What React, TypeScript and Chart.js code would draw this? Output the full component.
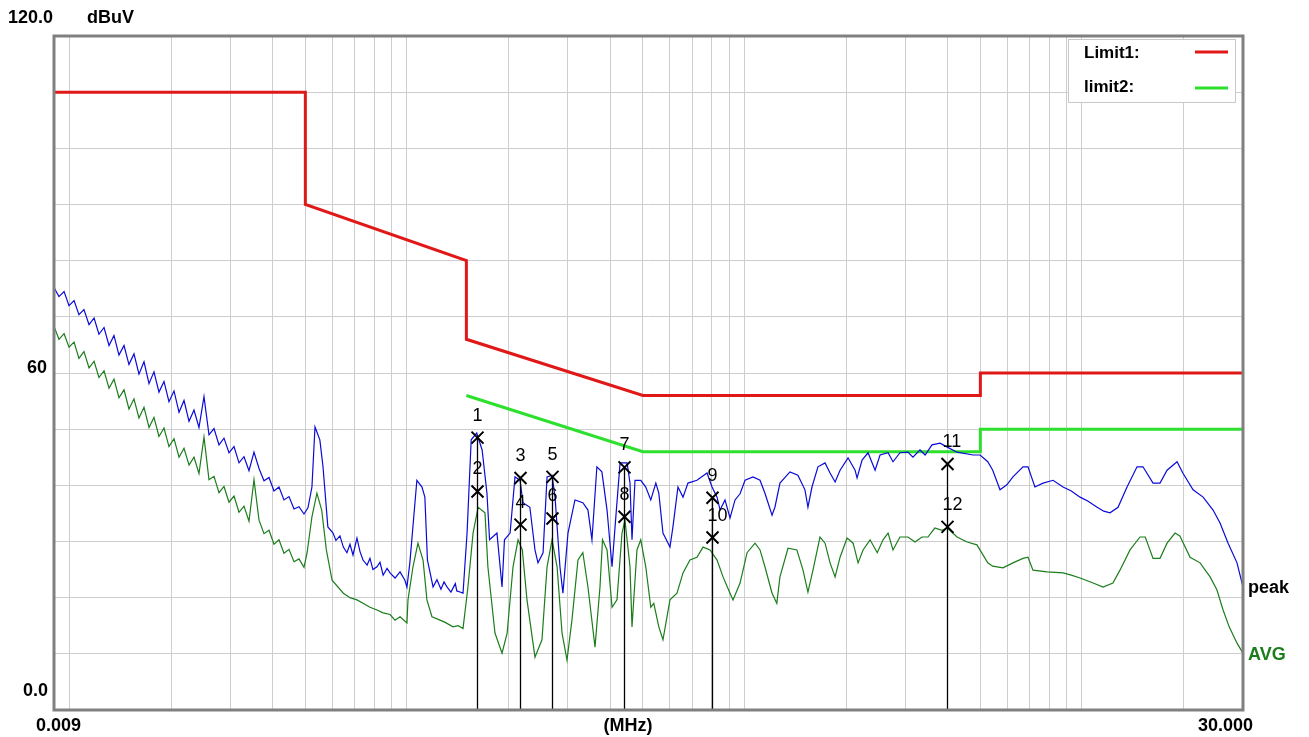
import React, { useEffect, useRef } from "react";
import { Chart, registerables } from "chart.js";

Chart.register(...registerables);

// ---------- data (frequency in MHz, level in dBuV) ----------
const peakFreq = [
  0.009, 0.00931, 0.00964, 0.00997, 0.01032, 0.01067, 0.01104, 0.01143, 0.01183, 0.01223,
  0.01266, 0.0131, 0.01355, 0.01402, 0.01451, 0.01501, 0.01553, 0.01607, 0.01663, 0.01721,
  0.0178, 0.01842, 0.01906, 0.01972, 0.02041, 0.02112, 0.02185, 0.02261, 0.02339, 0.0242,
  0.02504, 0.02591, 0.02681, 0.02774, 0.0287, 0.0297, 0.03073, 0.0318, 0.0329, 0.03404,
  0.03522, 0.03645, 0.03771, 0.03902, 0.04037, 0.04177, 0.04322, 0.04472, 0.04628, 0.04788,
  0.04954, 0.0509, 0.0523, 0.0534, 0.0552, 0.0564, 0.0583, 0.0604, 0.0616, 0.0633,
  0.0648, 0.0664, 0.0678, 0.0692, 0.0711, 0.0726, 0.0741, 0.0762, 0.0777, 0.0793,
  0.0815, 0.0832, 0.085, 0.0873, 0.0891, 0.0922, 0.0954, 0.0986, 0.1, 0.102,
  0.107, 0.1108, 0.113, 0.115, 0.1195, 0.1227, 0.1261, 0.1288, 0.1314, 0.135,
  0.1391, 0.1405, 0.1436, 0.1466, 0.1507, 0.155, 0.161, 0.167, 0.1726, 0.1757,
  0.1848, 0.1913, 0.1945, 0.2021, 0.209, 0.2163, 0.2207, 0.2313, 0.2395, 0.2445,
  0.2531, 0.2601, 0.2691, 0.2746, 0.284, 0.2898, 0.3, 0.3146, 0.332, 0.3438,
  0.3533, 0.3654, 0.3781, 0.3916, 0.4052, 0.4136, 0.428, 0.449, 0.458, 0.4643,
  0.4739, 0.4929, 0.51, 0.5278, 0.5463, 0.5575, 0.5735, 0.6016, 0.6139, 0.6353,
  0.6575, 0.6802, 0.7232, 0.7747, 0.8016, 0.8295, 0.8467, 0.8756, 0.9062, 0.9378,
  0.9704, 1.004, 1.06, 1.112, 1.15, 1.207, 1.231, 1.274, 1.364, 1.44,
  1.511, 1.542, 1.585, 1.651, 1.733, 1.793, 1.856, 1.92, 2.027, 2.127,
  2.156, 2.231, 2.324, 2.438, 2.522, 2.664, 2.755, 2.889, 3.051, 3.156,
  3.312, 3.43, 3.594, 3.798, 3.99, 4.264, 4.757, 4.99, 5.26, 5.44,
  5.717, 5.99, 6.245, 6.687, 6.92, 7.254, 7.669, 8.21, 8.786, 9.3,
  9.871, 10.4, 11.09, 11.6, 12.11, 12.79, 13.6, 14.56, 15.16, 16.24,
  17.03, 17.87, 19.13, 19.9, 21.34, 22.85, 24.46, 25.65, 27.1, 28.8,
  30,
];
const peakLevel = [
  75.2, 73.6, 74.5, 72.0, 72.9, 70.4, 71.3, 68.6, 69.8, 66.9,
  68.1, 64.9, 66.7, 63.2, 64.9, 61.5, 63.4, 59.8, 62.0, 58.1,
  60.2, 56.6, 58.5, 54.9, 56.8, 53.0, 55.1, 51.4, 53.4, 50.3,
  55.8, 49.0, 50.1, 47.2, 48.4, 45.8, 46.9, 44.0, 45.1, 42.6,
  45.9, 43.0, 40.8, 41.4, 39.0, 39.7, 37.4, 38.0, 35.8, 36.2,
  34.9, 36.0, 39.7, 50.4, 48.1, 43.3, 32.6, 31.5, 30.2, 31.0,
  29.0, 28.0, 29.5, 27.6, 30.6, 28.2, 26.7, 25.8, 27.0, 25.0,
  25.5, 26.3, 24.0, 25.2, 24.4, 23.5, 24.6, 23.1, 21.9, 26.2,
  40.9, 39.7, 37.9, 26.7, 21.9, 23.2, 21.5, 22.8, 21.9, 21.0,
  22.5, 21.2, 21.0, 20.8, 31.5, 48.1, 49.3, 46.3, 38.6, 30.3,
  31.5, 21.9, 30.3, 31.5, 41.5, 40.9, 36.9, 36.1, 28.5, 26.2,
  28.0, 41.5, 41.8, 37.9, 25.5, 20.8, 31.5, 37.4, 36.9, 35.6,
  30.3, 43.3, 42.4, 35.6, 25.5, 32.6, 44.0, 44.0, 40.4, 30.3,
  40.9, 40.9, 39.7, 37.4, 40.4, 38.6, 31.5, 29.0, 32.6, 39.7,
  37.9, 40.4, 40.9, 42.2, 39.7, 37.9, 35.6, 37.4, 34.2, 37.4,
  38.5, 40.9, 41.5, 40.9, 38.6, 34.7, 36.1, 40.4, 42.4, 41.8,
  39.2, 36.1, 39.7, 43.3, 44.0, 42.2, 40.6, 42.7, 44.9, 42.7,
  41.3, 44.5, 45.8, 42.7, 45.4, 45.8, 44.2, 45.8, 45.9, 45.0,
  46.3, 45.4, 47.2, 47.5, 46.8, 45.9, 45.4, 45.4, 44.2, 42.7,
  39.2, 40.1, 41.5, 43.3, 43.3, 39.7, 40.4, 40.9, 39.7, 39.0,
  37.9, 37.2, 36.1, 35.4, 35.1, 36.1, 39.7, 43.3, 43.3, 40.4,
  40.4, 42.7, 44.2, 42.2, 39.2, 37.9, 35.6, 33.3, 29.7, 26.2,
  21.9,
];

const avgFreq = [
  0.009, 0.00931, 0.00964, 0.00997, 0.01032, 0.01067, 0.01104, 0.01143, 0.01183, 0.01223,
  0.01266, 0.0131, 0.01355, 0.01402, 0.01451, 0.01501, 0.01553, 0.01607, 0.01663, 0.01721,
  0.0178, 0.01842, 0.01906, 0.01972, 0.02041, 0.02112, 0.02185, 0.02261, 0.02339, 0.0242,
  0.02504, 0.02591, 0.02681, 0.02774, 0.0287, 0.0297, 0.03073, 0.0318, 0.0329, 0.03404,
  0.03522, 0.03645, 0.03771, 0.03902, 0.04037, 0.04177, 0.04322, 0.04472, 0.04628, 0.04788,
  0.04954, 0.0506, 0.0523, 0.0541, 0.0559, 0.0577, 0.06, 0.0648, 0.0678, 0.0711,
  0.0741, 0.0777, 0.0815, 0.085, 0.0891, 0.0922, 0.0954, 0.1, 0.1007, 0.1042,
  0.1078, 0.1116, 0.1146, 0.1186, 0.1253, 0.1298, 0.1369, 0.1418, 0.1466, 0.1516,
  0.157, 0.1625, 0.1703, 0.1737, 0.1823, 0.1913, 0.1981, 0.2062, 0.2134, 0.2197,
  0.2268, 0.2395, 0.2512, 0.2601, 0.2691, 0.2785, 0.2881, 0.298, 0.3082, 0.3212,
  0.332, 0.3438, 0.3607, 0.3732, 0.3797, 0.3916, 0.4052, 0.4191, 0.4337, 0.4425,
  0.458, 0.4643, 0.4803, 0.4929, 0.51, 0.5278, 0.5387, 0.5575, 0.5735, 0.6016,
  0.6311, 0.6575, 0.6895, 0.7232, 0.7539, 0.7907, 0.8295, 0.864, 0.9062, 0.925,
  0.9704, 1.018, 1.075, 1.112, 1.15, 1.207, 1.247, 1.274, 1.346, 1.43,
  1.491, 1.542, 1.596, 1.674, 1.733, 1.793, 1.856, 1.92, 2.014, 2.099,
  2.171, 2.246, 2.356, 2.474, 2.574, 2.664, 2.755, 2.889, 3.051, 3.201,
  3.358, 3.497, 3.665, 3.85, 3.99, 4.264, 4.567, 4.884, 5.26, 5.44,
  5.833, 6.245, 6.687, 6.92, 7.158, 7.88, 8.786, 9.3, 9.871, 10.79,
  11.55, 12.35, 12.96, 13.88, 14.86, 15.4, 16.24, 17.03, 17.87, 18.87,
  19.5, 20.91, 22.38, 23.97, 25.1, 26.19, 27.3, 28.8, 30,
];
const avgLevel = [
  68.3, 66.0, 67.0, 64.6, 65.5, 62.6, 63.8, 60.9, 62.1, 59.2,
  60.4, 57.3, 58.9, 55.6, 57.0, 53.6, 55.4, 52.0, 53.9, 50.3,
  52.1, 48.7, 50.2, 46.9, 48.3, 45.0, 46.6, 43.6, 45.0, 42.1,
  48.6, 41.0, 41.6, 38.7, 39.8, 37.0, 38.1, 35.2, 36.3, 33.6,
  41.0, 33.8, 31.4, 32.0, 29.5, 30.3, 27.9, 28.6, 26.4, 26.9,
  25.4, 28.0, 34.4, 38.6, 35.6, 28.5, 23.1, 20.8, 20.0, 19.6,
  19.0, 18.3, 17.8, 17.3, 17.0, 16.0, 16.6, 15.5, 19.6, 25.5,
  29.7, 26.7, 19.6, 16.6, 16.0, 15.6, 14.8, 15.0, 14.5, 21.9,
  31.5, 36.1, 35.1, 25.5, 13.7, 10.1, 13.7, 25.5, 30.3, 28.5,
  19.6, 9.4, 12.5, 25.5, 30.3, 25.5, 13.7, 8.9, 16.0, 26.7,
  28.0, 21.9, 11.2, 21.9, 30.3, 28.5, 18.3, 19.6, 31.5, 33.8,
  25.5, 14.8, 28.5, 30.3, 25.5, 18.3, 19.0, 14.8, 12.5, 19.6,
  20.8, 24.4, 26.7, 27.2, 29.0, 28.5, 26.7, 23.7, 20.8, 19.6,
  22.6, 28.0, 29.7, 28.5, 25.5, 20.8, 19.0, 23.7, 28.8, 28.5,
  24.9, 21.0, 24.9, 30.8, 29.7, 26.2, 23.7, 27.2, 30.6, 29.7,
  26.2, 28.5, 30.3, 28.0, 30.3, 31.5, 28.5, 30.8, 30.8, 29.9,
  30.8, 30.8, 32.4, 32.0, 32.4, 30.8, 29.9, 29.4, 26.2, 25.6,
  25.3, 26.2, 27.0, 27.2, 24.9, 24.6, 24.4, 24.0, 23.5, 22.6,
  21.9, 22.6, 24.9, 28.5, 30.8, 30.8, 27.0, 27.0, 29.7, 31.5,
  31.0, 27.2, 26.2, 23.7, 21.4, 17.8, 14.8, 11.9, 10.1,
];

const limit1Freq = [0.009, 0.05, 0.05, 0.15, 0.15, 0.5, 5, 5, 30];
const limit1Level = [110, 110, 90, 80, 66, 56, 56, 60, 60];
const limit2Freq = [0.15, 0.5, 5, 5, 30];
const limit2Level = [56, 46, 46, 50, 50];

const markerNo = ["1", "2", "3", "4", "5", "6", "7", "8", "9", "10", "11", "12"];
const markerFreq = [0.161, 0.161, 0.216, 0.216, 0.269, 0.269, 0.44, 0.44, 0.8, 0.8, 3.98, 3.98];
const markerLevel = [48.5, 38.9, 41.3, 33.0, 41.5, 34.1, 43.2, 34.4, 37.8, 30.7, 43.8, 32.6];

const gridFreq = [
  0.01, 0.02, 0.03, 0.04, 0.05, 0.06, 0.07, 0.08, 0.09,
  0.1, 0.2, 0.3, 0.4, 0.5, 0.6, 0.7, 0.8, 0.9,
  1, 2, 3, 4, 5, 6, 7, 8, 9, 10, 20, 30,
];
const yTop = "120.0";
const yUnit = "dBuV";
const yMid = "60";
const yBottom = "0.0";
const xStart = "0.009";
const xUnit = "(MHz)";
const xEnd = "30.000";
const legendNames = ["Limit1:", "limit2:"];
const traceNames = ["peak", "AVG"];

const RED = "#e01818";
const LGREEN = "#2ee02e";
const BLUE = "#0a0ad8";
const DGREEN = "#1b7d1b";
const FONT = "'Liberation Sans', Arial, sans-serif";

const pts = (xs: number[], ys: number[]) => xs.map((x, i) => ({ x, y: ys[i] }));

const overlay = {
  id: "emiOverlay",
  afterDatasetsDraw(chart: any) {
    const ctx = chart.ctx as CanvasRenderingContext2D;
    const xs = chart.scales.x;
    const ys = chart.scales.y;
    const bottom = chart.chartArea.bottom;
    ctx.save();
    ctx.strokeStyle = "#000";
    ctx.lineWidth = 1.3;
    for (let i = 0; i < markerFreq.length; i += 2) {
      const px = Math.round(xs.getPixelForValue(markerFreq[i])) + 0.5;
      const py = ys.getPixelForValue(markerLevel[i]);
      ctx.beginPath();
      ctx.moveTo(px, py);
      ctx.lineTo(px, bottom);
      ctx.stroke();
    }
    ctx.font = `18px ${FONT}`;
    ctx.fillStyle = "#000";
    ctx.textAlign = "left";
    ctx.textBaseline = "middle";
    ctx.lineWidth = 2;
    for (let i = 0; i < markerFreq.length; i++) {
      const px = Math.round(xs.getPixelForValue(markerFreq[i])) + 0.5;
      const py = ys.getPixelForValue(markerLevel[i]);
      ctx.beginPath();
      ctx.moveTo(px - 6, py - 6);
      ctx.lineTo(px + 6, py + 6);
      ctx.moveTo(px + 6, py - 6);
      ctx.lineTo(px - 6, py + 6);
      ctx.stroke();
      ctx.fillText(markerNo[i], px - 5, py - 22);
    }
    ctx.restore();
  },
  afterDraw(chart: any) {
    const ctx = chart.ctx as CanvasRenderingContext2D;
    const { left, top, right, bottom } = chart.chartArea;
    const xs = chart.scales.x;
    const ys = chart.scales.y;
    ctx.save();
    ctx.strokeStyle = "#808080";
    ctx.lineWidth = 3;
    ctx.strokeRect(left, top, right - left, bottom - top);

    ctx.fillStyle = "#ffffff";
    ctx.fillRect(1068, 39, 167, 63);
    ctx.strokeStyle = "#c8c8c8";
    ctx.lineWidth = 1;
    ctx.strokeRect(1068.5, 39.5, 167, 63);
    ctx.font = `bold 17px ${FONT}`;
    ctx.fillStyle = "#000";
    ctx.textAlign = "left";
    ctx.textBaseline = "middle";
    ctx.fillText(legendNames[0], 1084, 53);
    ctx.fillText(legendNames[1], 1084, 87);
    ctx.lineWidth = 3;
    ctx.strokeStyle = RED;
    ctx.beginPath();
    ctx.moveTo(1195, 52);
    ctx.lineTo(1228, 52);
    ctx.stroke();
    ctx.strokeStyle = LGREEN;
    ctx.beginPath();
    ctx.moveTo(1195, 88);
    ctx.lineTo(1228, 88);
    ctx.stroke();

    ctx.font = `bold 18px ${FONT}`;
    ctx.fillStyle = "#000";
    ctx.textBaseline = "middle";
    ctx.textAlign = "left";
    ctx.fillText(yTop, 8, 18);
    ctx.fillText(yUnit, 87, 18);
    ctx.textAlign = "right";
    ctx.fillText(yMid, 47, ys.getPixelForValue(60) - 5);
    ctx.fillText(yBottom, 48, ys.getPixelForValue(0) - 19);
    ctx.textAlign = "left";
    ctx.fillText(xStart, 36, bottom + 16);
    ctx.textAlign = "center";
    ctx.fillText(xUnit, 628, bottom + 16);
    ctx.textAlign = "right";
    ctx.fillText(xEnd, xs.getPixelForValue(30) + 10, bottom + 16);
    ctx.textAlign = "left";
    ctx.fillStyle = "#000";
    ctx.fillText(traceNames[0], right + 5, ys.getPixelForValue(peakLevel[peakLevel.length - 1]) + 1);
    ctx.fillStyle = DGREEN;
    ctx.fillText(traceNames[1], right + 5, ys.getPixelForValue(avgLevel[avgLevel.length - 1]) + 2);
    ctx.restore();
  },
};

export default function App() {
  const canvasRef = useRef<HTMLCanvasElement | null>(null);

  useEffect(() => {
    if (!canvasRef.current) return;
    const chart = new Chart(canvasRef.current, {
      type: "line",
      data: {
        datasets: [
          {
            label: "peak",
            data: pts(peakFreq, peakLevel),
            borderColor: BLUE,
            borderWidth: 1.2,
            pointRadius: 0,
            tension: 0,
            fill: false,
            order: 2,
          },
          {
            label: "AVG",
            data: pts(avgFreq, avgLevel),
            borderColor: DGREEN,
            borderWidth: 1.2,
            pointRadius: 0,
            tension: 0,
            fill: false,
            order: 1,
          },
          {
            label: "Limit1",
            data: pts(limit1Freq, limit1Level),
            borderColor: RED,
            borderWidth: 3,
            pointRadius: 0,
            tension: 0,
            fill: false,
            order: 4,
          },
          {
            label: "limit2",
            data: pts(limit2Freq, limit2Level),
            borderColor: LGREEN,
            borderWidth: 3,
            pointRadius: 0,
            tension: 0,
            fill: false,
            order: 3,
          },
        ],
      },
      options: {
        animation: false,
        responsive: false,
        devicePixelRatio: 1,
        events: [],
        layout: { padding: { left: 54, top: 36, right: 66, bottom: 27 } },
        plugins: { legend: { display: false }, tooltip: { enabled: false } },
        scales: {
          x: {
            type: "logarithmic",
            min: 0.009,
            max: 30,
            afterBuildTicks: (scale: any) => {
              scale.ticks = gridFreq.map((v) => ({ value: v }));
            },
            ticks: { display: false },
            grid: { color: "#cdcdcd", lineWidth: 1, drawTicks: false },
            border: { display: false },
          },
          y: {
            type: "linear",
            min: 0,
            max: 120,
            ticks: { display: false, stepSize: 10 },
            grid: { color: "#cdcdcd", lineWidth: 1, drawTicks: false },
            border: { display: false },
          },
        },
      },
      plugins: [overlay],
    });
    return () => chart.destroy();
  }, []);

  return (
    <div style={{ position: "fixed", left: 0, top: 0, width: 1309, height: 737, background: "#fff" }}>
      <canvas ref={canvasRef} width={1309} height={737} style={{ width: 1309, height: 737 }} />
    </div>
  );
}
